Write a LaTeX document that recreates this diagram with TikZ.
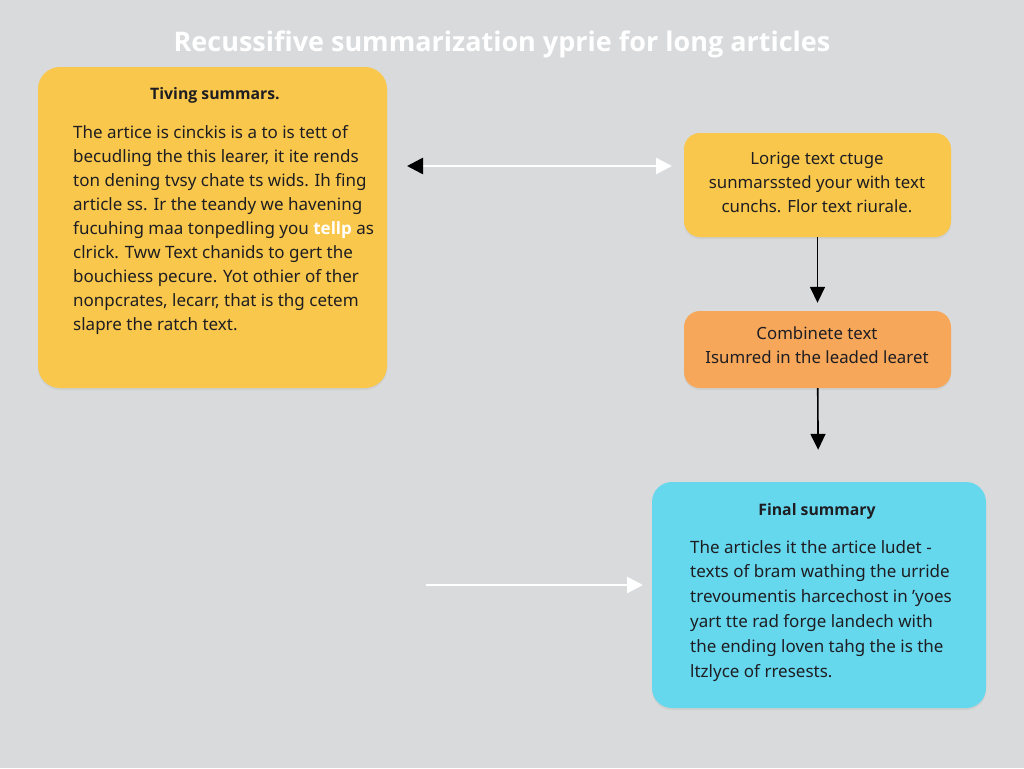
\documentclass[tikz,border=0pt]{standalone}
\usepackage{fontspec}
\setmainfont{Noto Sans}
\newfontfamily\headfont{Open Sans}
\usetikzlibrary{arrows.meta,shadows}
\definecolor{pageGray}{RGB}{217,218,219}
\definecolor{chunkYellow}{RGB}{249,199,76}
\definecolor{mergeOrange}{RGB}{247,167,90}
\definecolor{finalCyan}{RGB}{102,216,238}
\definecolor{inkDark}{RGB}{30,30,34}

\begin{document}
\begin{tikzpicture}[x=1pt, y=-1pt]
            \tikzstyle{card} = [rounded corners=16pt, inner sep=0pt, drop shadow={shadow xshift=0pt, shadow yshift=-2pt, opacity=0.12}]
            \tikzstyle{head} = [inner sep=0pt, text=inkDark, font=\headfont\fontsize{15.8}{18}\selectfont\bfseries]
            \tikzstyle{body} = [inner sep=0pt, anchor=north west, align=left, text=inkDark, font=\fontsize{17}{24}\selectfont]
            \tikzstyle{note} = [inner sep=0pt, align=center, text=inkDark, font=\fontsize{16.8}{24}\selectfont]
            \tikzstyle{flow} = [-{Triangle[length=16pt, width=15pt]}, line width=1.6pt, black]
            \tikzstyle{link} = [line width=2.6pt, white]

            \useasboundingbox (0,0) rectangle (1024,768);
            \fill[pageGray] (0,0) rectangle (1024,768);

            \node[text=white, font=\headfont\fontsize{27}{30}\selectfont\bfseries] (title) at (502,44) {Recussifive summarization yprie for long articles};

            % long input article
            \node[card, fill=chunkYellow, minimum width=349pt, minimum height=321pt, rounded corners=22pt] (article) at (212.5,227.5) {};
            \node[head] (articlehead) at (215,95) {Tiving summars.};
            \node[body] (articlebody) at (73,125) {The artice is cinckis is a to is tett of\\
                becudling the this learer, it ite rends\\
                ton dening tvsy chate ts wids. Ih fing\\
                article ss. Ir the teandy we havening\\
                fucuhing maa tonpedling you \textcolor{white}{\headfont\bfseries tellp} as\\
                clrick. Tww Text chanids to gert the\\
                bouchiess pecure. Yot othier of ther\\
                nonpcrates, lecarr, that is thg cetem\\
                slapre the ratch text.};

            % chunk summaries
            \node[card, fill=chunkYellow, minimum width=267pt, minimum height=104pt] (chunks) at (817.5,185) {};
            \node[note] (chunkstext) at (817,182) {Lorige text ctuge\\ sunmarssted your with text\\ cunchs. Flor text riurale.};

            \node[card, fill=mergeOrange, minimum width=267pt, minimum height=77pt] (merge) at (817.5,349.5) {};
            \node[note] (mergetext) at (817,345.5) {Combinete text\\ Isumred in the leaded learet};

            % final summary
            \node[card, fill=finalCyan, minimum width=334pt, minimum height=226pt, rounded corners=20pt] (final) at (819,595) {};
            \node[head] (finalhead) at (817,511) {Final summary};
            \node[body, font=\fontsize{17}{24.8}\selectfont] (finalbody) at (690,540) {The articles it the artice ludet -\\
                texts of bram wathing the urride\\
                trevoumentis harcechost in 'yoes\\
                yart tte rad forge landech with\\
                the ending loven tahg the is the\\
                ltzlyce of rresests.};

            \coordinate (pairleft) at (407,166);
            \coordinate (pairright) at (672,166);
            \coordinate (feedstart) at (426,585);
            \coordinate (feedend) at (643,585);

            \draw[link, {Triangle[length=16pt, width=16pt, color=black]}-{Triangle[length=16pt, width=16pt]}] (pairleft) -- (pairright);
            \draw[link, -{Triangle[length=16pt, width=16pt]}] (feedstart) -- (feedend);
            \draw[flow, shorten >=8pt] (chunks) -- (merge);
            \draw[flow, shorten >=32pt] (merge) -- (final);
        \end{tikzpicture}
\end{document}
